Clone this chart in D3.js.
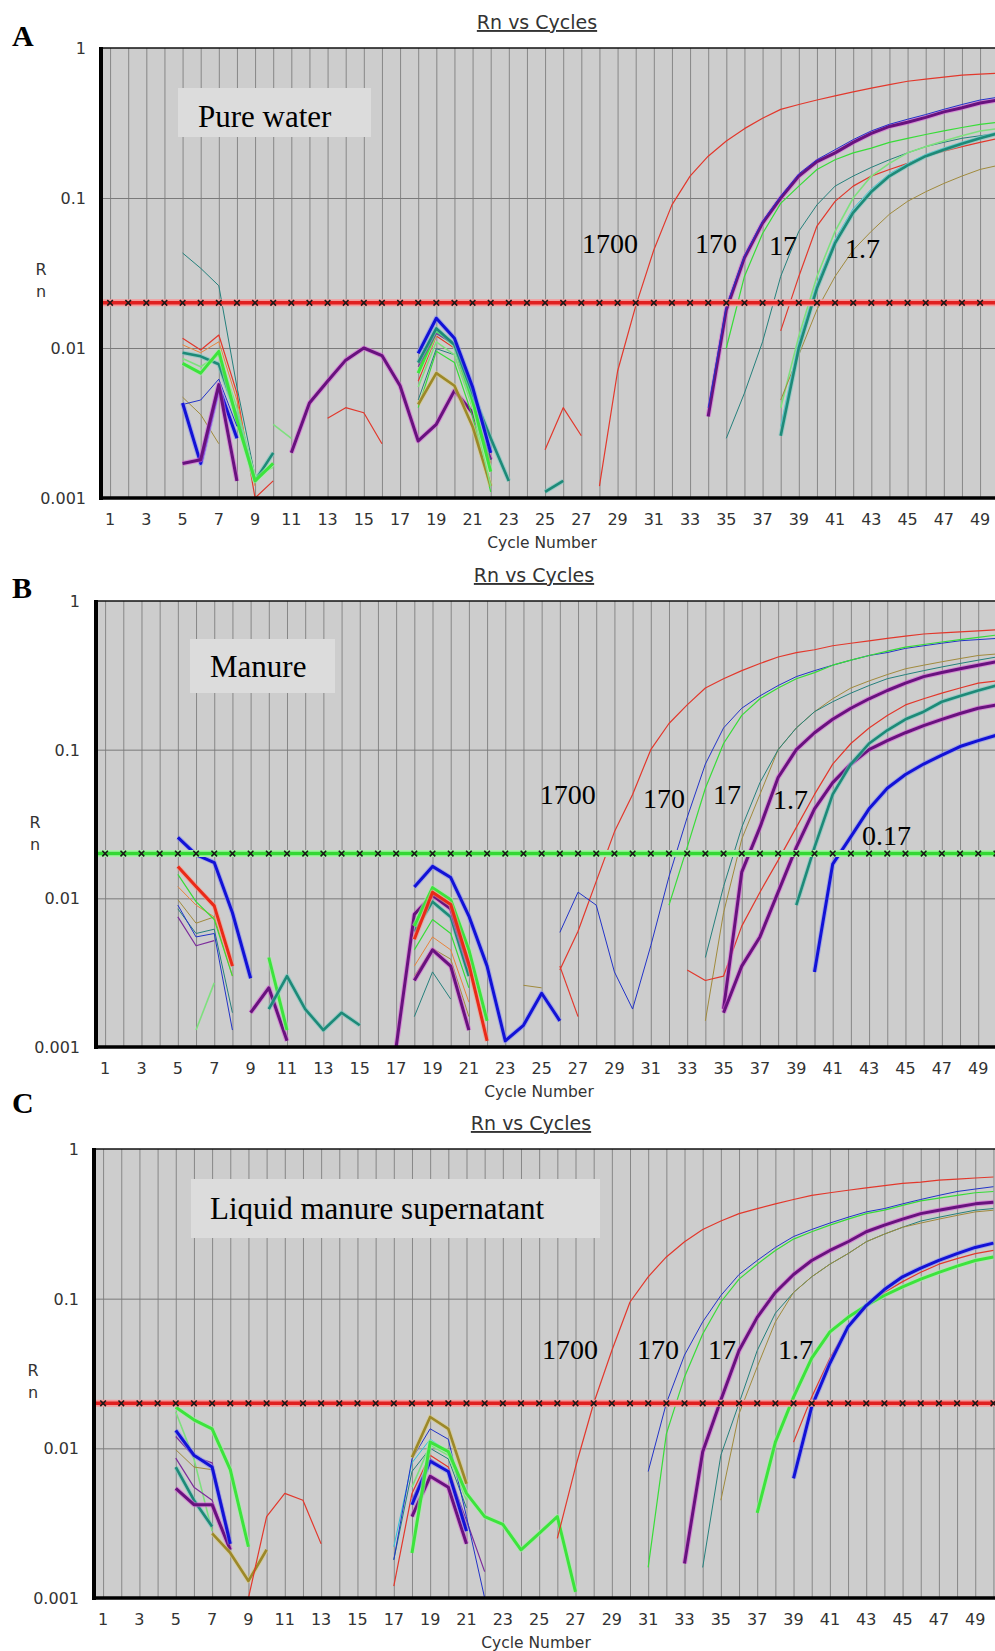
<!DOCTYPE html>
<html>
<head>
<meta charset="utf-8">
<script src="https://cdn.jsdelivr.net/npm/d3@7"></script>
<style>
  body { margin: 0; background: #fff; }
  svg { display: block; }
</style>
</head>
<body>
<svg id="chart"></svg>
<script>
// ---------- data ----------
const cycles = d3.range(1, 51);
const cycleTicks = d3.range(1, 50, 2);
const rnTicks = [0.001, 0.01, 0.1, 1];
const rnTickLabels = ['0.001', '0.01', '0.1', '1'];
const rnGrid = [0.01, 0.1];
const thresholdRn = 0.02;
const panelLetters = ['A', 'B', 'C'];
const sampleNames = ['Pure water', 'Manure', 'Liquid manure supernatant'];
const chartTitle = 'Rn vs Cycles';
const xTitle = 'Cycle Number';
const copiesA = ['1700', '170', '17', '1.7'];
const copiesB = ['1700', '170', '17', '1.7', '0.17'];
const copiesC = ['1700', '170', '17', '1.7'];

// each series: [dye, first cycle, Rn per cycle]
const seriesA = [
  // noise, cycles 5-16
  ['teal', 5, [0.043, 0.034, 0.026, 0.0055, 0.0014]],
  ['red', 5, [0.0116, 0.0097, 0.0122, 0.005, 0.001, 0.0013]],
  ['orange', 5, [0.0105, 0.0093, 0.011, 0.0045, 0.0012]],
  ['lgreen', 5, [0.0085, 0.0075, 0.009, 0.004, 0.0014, 0.0016]],
  ['tealT', 5, [0.0093, 0.0088, 0.0078, 0.0035, 0.0013, 0.002]],
  ['greenT', 5, [0.0079, 0.0068, 0.0095, 0.0033, 0.0013, 0.0017]],
  ['olive', 5, [0.0047, 0.0036, 0.0023]],
  ['blue', 5, [0.0042, 0.0045, 0.0062, 0.003]],
  ['blueT', 5, [0.0043, 0.0017, 0.0055, 0.0025]],
  ['purpleT', 5, [0.0017, 0.0018, 0.0057, 0.0013]],
  ['lgreen', 10, [0.0031, 0.0025]],
  ['purpleT', 11, [0.002, 0.0043, 0.006, 0.0083, 0.01, 0.0089, 0.0056, 0.0024, 0.0031, 0.0052, 0.0037, 0.0018]],
  ['red', 13, [0.0034, 0.004, 0.0037, 0.0023]],
  // noise, cycles 18-23
  ['red', 18, [0.006, 0.012, 0.01, 0.004, 0.0017]],
  ['green', 18, [0.004, 0.0095, 0.008, 0.0035, 0.0011]],
  ['oliveT', 18, [0.0042, 0.0068, 0.0056, 0.003, 0.0012]],
  ['teal', 18, [0.0045, 0.0099, 0.009, 0.0042, 0.0018]],
  ['lgreen', 18, [0.0055, 0.011, 0.009, 0.004, 0.0012]],
  ['greenT', 18, [0.0068, 0.013, 0.0105, 0.0045, 0.0015]],
  ['purple', 18, [0.0075, 0.0125, 0.0105, 0.005, 0.002]],
  ['tealT', 18, [0.008, 0.0135, 0.0105, 0.005, 0.0025, 0.0013]],
  ['blueT', 18, [0.0092, 0.0158, 0.0116, 0.0055, 0.002]],
  ['red', 25, [0.0021, 0.004, 0.0026]],
  ['tealT', 25, [0.0011, 0.0013]],
  // amplification
  ['red', 28, [0.0012, 0.007, 0.019, 0.045, 0.09, 0.14, 0.19, 0.24, 0.29, 0.34, 0.39, 0.42, 0.45, 0.48, 0.51, 0.54, 0.57, 0.6, 0.62, 0.64, 0.66, 0.67, 0.68]],
  ['purpleT', 34, [0.0035, 0.018, 0.04, 0.068, 0.1, 0.14, 0.175, 0.2, 0.235, 0.27, 0.3, 0.32, 0.345, 0.375, 0.4, 0.43, 0.45]],
  ['blue', 34, [0.004, 0.019, 0.041, 0.07, 0.103, 0.145, 0.18, 0.21, 0.245, 0.28, 0.31, 0.335, 0.36, 0.39, 0.42, 0.45, 0.47]],
  ['green', 35, [0.01, 0.03, 0.058, 0.092, 0.12, 0.155, 0.18, 0.2, 0.215, 0.235, 0.25, 0.265, 0.28, 0.295, 0.31, 0.32]],
  ['teal', 35, [0.0025, 0.005, 0.011, 0.03, 0.06, 0.09, 0.12, 0.14, 0.16, 0.18, 0.2, 0.22, 0.235, 0.25, 0.26, 0.27]],
  ['red', 38, [0.013, 0.03, 0.065, 0.095, 0.12, 0.14, 0.155, 0.17, 0.19, 0.205, 0.22, 0.235, 0.25]],
  ['lgreen', 38, [0.004, 0.012, 0.03, 0.06, 0.1, 0.14, 0.17, 0.2, 0.22, 0.24, 0.26, 0.28, 0.29]],
  ['olive', 38, [0.0045, 0.009, 0.018, 0.03, 0.045, 0.06, 0.078, 0.095, 0.11, 0.125, 0.14, 0.155, 0.165]],
  ['cyan', 38, [0.003, 0.011, 0.027, 0.053, 0.085, 0.115, 0.145, 0.17, 0.195, 0.215, 0.235, 0.255, 0.275]],
  ['tealT', 38, [0.0026, 0.01, 0.025, 0.05, 0.08, 0.11, 0.14, 0.165, 0.19, 0.21, 0.23, 0.25, 0.27]],
];

const seriesB = [
  ['olive', 5, [0.0098, 0.0068, 0.0075]],
  ['purple', 5, [0.0075, 0.0048, 0.0052]],
  ['teal', 5, [0.0085, 0.0058, 0.0062, 0.0017]],
  ['blue', 5, [0.009, 0.0055, 0.0058, 0.0013]],
  ['orange', 5, [0.012, 0.009, 0.0075, 0.003]],
  ['green', 5, [0.0145, 0.0095, 0.0072, 0.003]],
  ['redT', 5, [0.0164, 0.012, 0.0089, 0.0035]],
  ['blueT', 5, [0.0257, 0.0197, 0.0174, 0.008, 0.0029]],
  ['lgreen', 6, [0.0013, 0.0027]],
  ['purpleT', 9, [0.0017, 0.0025, 0.0011]],
  ['greenT', 10, [0.004, 0.0013]],
  ['tealT', 10, [0.0018, 0.003, 0.0018, 0.0013, 0.0017, 0.0014]],
  ['teal', 18, [0.0016, 0.0032, 0.0021]],
  ['olive', 18, [0.003, 0.0046, 0.0039, 0.0016]],
  ['orange', 18, [0.0035, 0.0055, 0.0045, 0.002]],
  ['green', 18, [0.0045, 0.0072, 0.0058, 0.0025]],
  ['tealT', 18, [0.006, 0.0095, 0.0075, 0.003]],
  ['purpleT', 18, [0.0028, 0.0045, 0.0035, 0.0013]],
  ['purpleT', 17, [0.001, 0.0078, 0.0105, 0.0085, 0.0035]],
  ['greenT', 18, [0.0065, 0.0118, 0.0098, 0.0045, 0.0015]],
  ['redT', 18, [0.0053, 0.011, 0.0091, 0.0036, 0.0011]],
  ['blueT', 18, [0.0119, 0.0164, 0.0138, 0.0076, 0.0035, 0.0011, 0.0014, 0.0023, 0.0015]],
  ['olive', 24, [0.0026, 0.0025]],
  ['red', 26, [0.0035, 0.0016]],
  // amplification
  ['red', 26, [0.0033, 0.006, 0.013, 0.028, 0.05, 0.1, 0.15, 0.2, 0.26, 0.3, 0.34, 0.38, 0.42, 0.45, 0.47, 0.5, 0.52, 0.54, 0.56, 0.58, 0.6, 0.61, 0.62, 0.63, 0.64]],
  ['blue', 26, [0.0059, 0.011, 0.009, 0.0032, 0.0018, 0.0048, 0.014, 0.035, 0.08, 0.14, 0.19, 0.23, 0.27, 0.31, 0.34, 0.37, 0.4, 0.43, 0.45, 0.48, 0.5, 0.52, 0.54, 0.55, 0.56]],
  ['green', 32, [0.009, 0.022, 0.055, 0.11, 0.17, 0.22, 0.26, 0.3, 0.33, 0.37, 0.4, 0.43, 0.46, 0.49, 0.51, 0.53, 0.55, 0.57, 0.59]],
  ['olive', 34, [0.0015, 0.008, 0.025, 0.05, 0.1, 0.14, 0.18, 0.22, 0.26, 0.29, 0.32, 0.35, 0.37, 0.39, 0.41, 0.43, 0.44]],
  ['teal', 34, [0.004, 0.012, 0.03, 0.06, 0.1, 0.14, 0.18, 0.21, 0.24, 0.27, 0.3, 0.32, 0.34, 0.36, 0.38, 0.4, 0.42]],
  ['red', 33, [0.0033, 0.0028, 0.003, 0.0065, 0.011, 0.018, 0.03, 0.05, 0.08, 0.11, 0.14, 0.17, 0.2, 0.22, 0.24, 0.26, 0.28, 0.29]],
  ['purpleT', 35, [0.0018, 0.015, 0.03, 0.065, 0.1, 0.13, 0.16, 0.19, 0.22, 0.25, 0.28, 0.31, 0.33, 0.35, 0.37, 0.39]],
  ['purpleT', 35, [0.0017, 0.0035, 0.0055, 0.011, 0.022, 0.04, 0.06, 0.08, 0.1, 0.115, 0.13, 0.145, 0.16, 0.175, 0.19, 0.2]],
  ['tealT', 39, [0.009, 0.022, 0.05, 0.08, 0.11, 0.135, 0.16, 0.18, 0.21, 0.23, 0.25, 0.27]],
  ['blueT', 40, [0.0032, 0.017, 0.026, 0.04, 0.055, 0.068, 0.08, 0.092, 0.105, 0.115, 0.125]],
];

const seriesC = [
  ['lgreen', 5, [0.0175, 0.0085, 0.0028]],
  ['olive', 5, [0.0098, 0.0075, 0.0072]],
  ['purple', 5, [0.0086, 0.0055, 0.0045, 0.002]],
  ['tealT', 5, [0.0075, 0.0045, 0.003]],
  ['purpleT', 5, [0.0054, 0.0042, 0.0042, 0.0021]],
  ['purple', 5, [0.012, 0.0088, 0.008, 0.0025]],
  ['blueT', 5, [0.0132, 0.009, 0.0075, 0.0023]],
  ['greenT', 5, [0.0188, 0.0155, 0.0135, 0.0072, 0.0022]],
  ['oliveT', 7, [0.0027, 0.002, 0.0013, 0.0021]],
  ['red', 9, [0.001, 0.0035, 0.005, 0.0045, 0.0023]],
  ['red', 17, [0.0012, 0.005, 0.009, 0.0075, 0.003]],
  ['cyan', 17, [0.0022, 0.008, 0.0115, 0.0095]],
  ['teal', 17, [0.0018, 0.007, 0.01, 0.0085, 0.004]],
  ['purpleT', 18, [0.0035, 0.0065, 0.0055, 0.0023]],
  ['purple', 18, [0.0045, 0.0085, 0.007, 0.0033, 0.0015]],
  ['blueT', 18, [0.0042, 0.0082, 0.007, 0.0028]],
  ['lgreen', 18, [0.0055, 0.0105, 0.009, 0.0045]],
  ['blue', 17, [0.0018, 0.0085, 0.0135, 0.0115, 0.0035, 0.001]],
  ['greenT', 18, [0.002, 0.011, 0.0095, 0.005, 0.0035, 0.0031, 0.0021, 0.0027, 0.0035, 0.0011]],
  ['oliveT', 18, [0.0087, 0.0162, 0.0135, 0.0058]],
  // amplification
  ['red', 26, [0.0025, 0.0075, 0.02, 0.045, 0.095, 0.14, 0.19, 0.24, 0.29, 0.33, 0.37, 0.4, 0.43, 0.46, 0.49, 0.51, 0.53, 0.55, 0.57, 0.59, 0.6, 0.62, 0.63, 0.64, 0.65]],
  ['green', 31, [0.0016, 0.0125, 0.03, 0.058, 0.095, 0.135, 0.17, 0.21, 0.25, 0.28, 0.31, 0.34, 0.37, 0.39, 0.42, 0.45, 0.47, 0.49, 0.51, 0.52]],
  ['blue', 31, [0.007, 0.02, 0.042, 0.07, 0.105, 0.145, 0.18, 0.22, 0.26, 0.29, 0.32, 0.35, 0.38, 0.4, 0.43, 0.46, 0.49, 0.52, 0.54, 0.56]],
  ['teal', 34, [0.0016, 0.009, 0.02, 0.045, 0.08, 0.11, 0.14, 0.17, 0.2, 0.24, 0.27, 0.3, 0.33, 0.35, 0.37, 0.39, 0.4]],
  ['olive', 35, [0.0045, 0.017, 0.035, 0.07, 0.11, 0.14, 0.17, 0.2, 0.24, 0.27, 0.3, 0.32, 0.34, 0.36, 0.38, 0.39]],
  ['purpleT', 33, [0.0017, 0.0095, 0.021, 0.045, 0.075, 0.11, 0.145, 0.18, 0.21, 0.24, 0.28, 0.31, 0.34, 0.37, 0.39, 0.41, 0.43, 0.44]],
  ['red', 39, [0.011, 0.022, 0.04, 0.065, 0.088, 0.11, 0.13, 0.15, 0.17, 0.185, 0.2, 0.21]],
  ['greenT', 37, [0.0037, 0.011, 0.022, 0.04, 0.06, 0.075, 0.09, 0.105, 0.12, 0.135, 0.15, 0.165, 0.18, 0.19]],
  ['blueT', 39, [0.0063, 0.019, 0.037, 0.065, 0.09, 0.115, 0.14, 0.16, 0.18, 0.2, 0.22, 0.235]],
];

// ---------- styles & layout ----------
const dye = {
  red: { c: '#e2382c', w: 1.2 },
  redT: { c: '#ea2a18', w: 3, halo: '#f59a8a' },
  orange: { c: '#e8843c', w: 1 },
  green: { c: '#38dc38', w: 1.2 },
  greenT: { c: '#3ce43c', w: 3, halo: '#a6f0a6' },
  lgreen: { c: '#7ee07e', w: 1.6 },
  teal: { c: '#25807c', w: 1 },
  tealT: { c: '#1d8a78', w: 2.6, halo: '#7cc8c0' },
  cyan: { c: '#2fc4dc', w: 1 },
  blue: { c: '#2233c8', w: 1 },
  blueT: { c: '#1212d6', w: 3, halo: '#8a8ef0' },
  purple: { c: '#7c2c9c', w: 1.2 },
  purpleT: { c: '#68127e', w: 3, halo: '#d860d8' },
  olive: { c: '#a08a3c', w: 1 },
  oliveT: { c: '#9c8828', w: 2.6, halo: '#d8cc88' },
};

const panels = [
  {
    series: seriesA, copies: copiesA, thr: '#e02020', thrHalo: '#f49a9a',
    left: 101, top: 48, bottom: 498, step: 18.125, tickX: 86, rnX: 41, letterY: 46, titleX: 537, xTitleX: 542,
    box: [178, 88, 193, 49], nameX: 198, nameY: 127,
    copyAt: [[27.04, 0.043], [33.27, 0.043], [37.36, 0.0418], [41.55, 0.04]],
  },
  {
    series: seriesB, copies: copiesB, thr: '#34d834', thrHalo: '#a8f0a8',
    left: 96, top: 601, bottom: 1047, step: 18.19, tickX: 80, rnX: 35, letterY: 598, titleX: 534, xTitleX: 539,
    box: [190, 639, 145, 54], nameX: 210, nameY: 677,
    copyAt: [[24.9, 0.0428], [30.57, 0.0408], [34.42, 0.0428], [37.72, 0.0396], [42.61, 0.023]],
  },
  {
    series: seriesC, copies: copiesC, thr: '#e02020', thrHalo: '#f49a9a',
    left: 94, top: 1149, bottom: 1598, step: 18.17, tickX: 79, rnX: 33, letterY: 1113, titleX: 531, xTitleX: 536,
    box: [191, 1179, 409, 59], nameX: 210, nameY: 1219,
    copyAt: [[25.16, 0.0394], [30.38, 0.0394], [34.29, 0.0394], [38.14, 0.0394]],
  },
];

const W = 995;
const H = 1651;
const sans = "'DejaVu Sans', Verdana, sans-serif";
const serif = "'Liberation Serif', 'Times New Roman', serif";

const svg = d3.select('#chart').attr('width', W).attr('height', H);
svg.append('rect').attr('width', W).attr('height', H).attr('fill', '#fff');

panels.forEach((p, i) => {
  const right = p.left + 50 * p.step;
  const x = d3.scaleLinear().domain([0.5, 50.5]).range([p.left, right]);
  const y = d3.scaleLog().domain([0.001, 1]).range([p.bottom, p.top]);
  const h = p.bottom - p.top;
  const g = svg.append('g');

  g.append('clipPath').attr('id', `plot${i}`)
    .append('rect')
    .attr('x', p.left)
    .attr('y', p.top)
    .attr('width', right - p.left)
    .attr('height', h);

  // plot background
  g.append('rect')
    .attr('x', p.left).attr('y', p.top)
    .attr('width', right - p.left).attr('height', h)
    .attr('fill', '#cdcdcd');

  // grid: one line per cycle, plus 0.1 and 0.01
  g.append('g')
    .attr('transform', `translate(0,${p.bottom})`)
    .call(d3.axisBottom(x).tickValues(cycles).tickSize(-h).tickFormat(''))
    .call(s => s.select('.domain').remove())
    .selectAll('line')
    .attr('stroke', '#878787');
  g.append('g')
    .attr('transform', `translate(${p.left},0)`)
    .call(d3.axisLeft(y).tickValues(rnGrid).tickSize(-(right - p.left)).tickFormat(''))
    .call(s => s.select('.domain').remove())
    .selectAll('line')
    .attr('stroke', '#7a7a7a');

  // sample name box
  g.append('rect')
    .attr('x', p.box[0]).attr('y', p.box[1])
    .attr('width', p.box[2]).attr('height', p.box[3])
    .attr('fill', '#dcdcdc');
  g.append('text')
    .attr('x', p.nameX).attr('y', p.nameY)
    .attr('font-family', serif).attr('font-size', 31)
    .attr('fill', '#000')
    .text(sampleNames[i]);

  // curves, straight segments between cycles like the instrument software
  const line = d3.line()
    .x(d => x(d[0]))
    .y(d => y(d[1]));
  const curves = g.append('g').attr('clip-path', `url(#plot${i})`);
  p.series.forEach(([key, first, vals]) => {
    const st = dye[key];
    const pts = vals.map((v, k) => [first + k, v]);
    if (st.halo) {
      curves.append('path')
        .attr('d', line(pts))
        .attr('fill', 'none')
        .attr('stroke', st.halo)
        .attr('stroke-opacity', 0.6)
        .attr('stroke-width', st.w + 2)
        .attr('stroke-linejoin', 'round');
    }
    curves.append('path')
      .attr('d', line(pts))
      .attr('fill', 'none')
      .attr('stroke', st.c)
      .attr('stroke-width', st.w)
      .attr('stroke-linejoin', 'round');
  });

  // threshold with x markers
  const ty = y(thresholdRn);
  curves.append('line')
    .attr('x1', p.left).attr('x2', right).attr('y1', ty).attr('y2', ty)
    .attr('stroke', p.thrHalo).attr('stroke-width', 7);
  curves.append('line')
    .attr('x1', p.left).attr('x2', right).attr('y1', ty).attr('y2', ty)
    .attr('stroke', p.thr).attr('stroke-width', 3.5);
  curves.selectAll('.mark')
    .data(cycles)
    .enter()
    .append('path')
    .attr('class', 'mark')
    .attr('transform', d => `translate(${x(d)},${ty})`)
    .attr('d', d3.symbol().type(d3.symbolX).size(22))
    .attr('fill', 'none')
    .attr('stroke', '#1a1a1a')
    .attr('stroke-width', 1.6);

  // copy number labels
  g.selectAll('.copy')
    .data(p.copies)
    .enter()
    .append('text')
    .attr('class', 'copy')
    .attr('x', (d, k) => x(p.copyAt[k][0]))
    .attr('y', (d, k) => y(p.copyAt[k][1]))
    .attr('font-family', serif)
    .attr('font-size', 28)
    .attr('fill', '#000')
    .text(d => d);

  // frame: thin top, thick left and bottom
  g.append('line')
    .attr('x1', p.left).attr('x2', right).attr('y1', p.top).attr('y2', p.top)
    .attr('stroke', '#111').attr('stroke-width', 1.5);
  g.append('line')
    .attr('x1', p.left).attr('x2', p.left).attr('y1', p.top - 1).attr('y2', p.bottom + 2)
    .attr('stroke', '#000').attr('stroke-width', 4);
  g.append('line')
    .attr('x1', p.left).attr('x2', right).attr('y1', p.bottom).attr('y2', p.bottom)
    .attr('stroke', '#000').attr('stroke-width', 3.5);

  // axis labels
  g.selectAll('.ytick')
    .data(rnTicks)
    .enter()
    .append('text')
    .attr('x', p.tickX)
    .attr('y', d => y(d) + 6)
    .attr('text-anchor', 'end')
    .attr('font-family', sans).attr('font-size', 16)
    .attr('fill', '#333')
    .text((d, k) => rnTickLabels[k]);
  g.selectAll('.xtick')
    .data(cycleTicks)
    .enter()
    .append('text')
    .attr('x', d => x(d))
    .attr('y', p.bottom + 27)
    .attr('text-anchor', 'middle')
    .attr('font-family', sans).attr('font-size', 16)
    .attr('fill', '#333')
    .text(d => d);
  g.append('text')
    .attr('x', p.xTitleX).attr('y', p.bottom + 50)
    .attr('text-anchor', 'middle')
    .attr('font-family', sans).attr('font-size', 15.5)
    .attr('fill', '#333')
    .text(xTitle);
  ['R', 'n'].forEach((c, k) => {
    g.append('text')
      .attr('x', p.rnX).attr('y', p.top + 227 + k * 22)
      .attr('text-anchor', 'middle')
      .attr('font-family', sans).attr('font-size', 16)
      .attr('fill', '#333')
      .text(c);
  });

  // title (underlined) and panel letter
  g.append('text')
    .attr('x', p.titleX).attr('y', p.top - 19)
    .attr('text-anchor', 'middle')
    .attr('font-family', sans).attr('font-size', 19)
    .attr('text-decoration', 'underline')
    .attr('fill', '#333')
    .text(chartTitle);
  g.append('text')
    .attr('x', 12).attr('y', p.letterY)
    .attr('font-family', serif).attr('font-size', 30)
    .attr('font-weight', 'bold')
    .attr('fill', '#000')
    .text(panelLetters[i]);
});
</script>
</body>
</html>
